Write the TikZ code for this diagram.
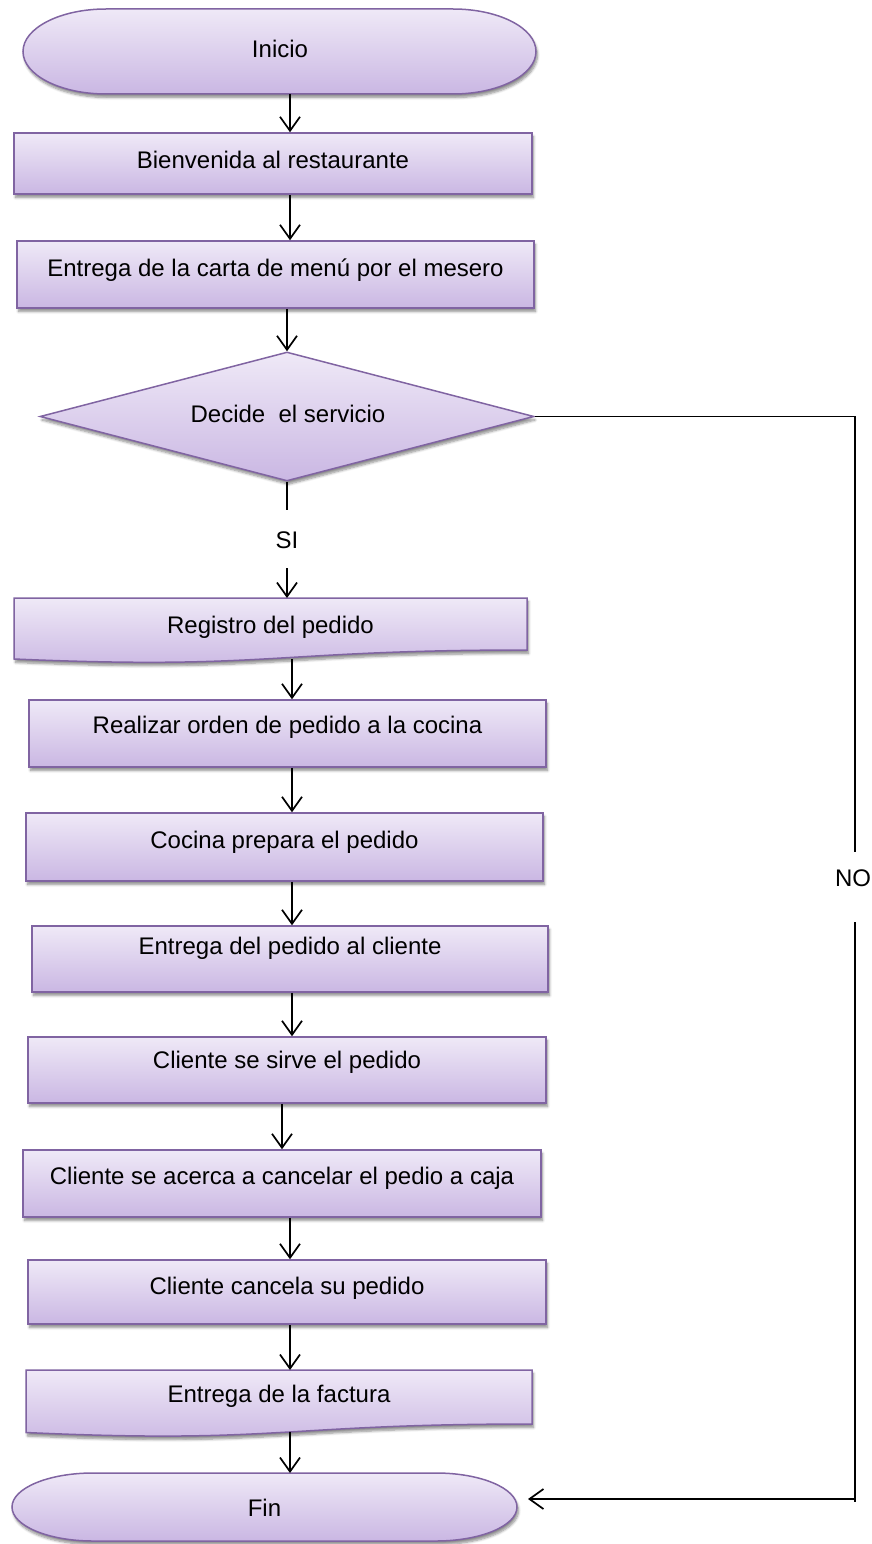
\documentclass[tikz,border=0pt]{standalone}
\usepackage{fontspec}
\setmainfont{Liberation Sans}
\usetikzlibrary{arrows.meta,shadows.blur,shapes.geometric,calc}
\definecolor{ftop}{RGB}{239,233,247}
\definecolor{fbot}{RGB}{202,183,227}
\definecolor{fborder}{RGB}{128,100,162}
\tikzset{
  shp/.style={draw=fborder, line width=1.5pt, top color=ftop, bottom color=fbot,
    blur shadow={shadow xshift=1.5pt, shadow yshift=-3.5pt, shadow opacity=45, shadow blur steps=6, shadow blur radius=2.5pt}},
  proc/.style={shp, rectangle, inner sep=0pt},
  lbl/.style={font=\fontsize{24}{28}\selectfont, inner sep=0pt, anchor=base},
  conn/.style={line width=1.7pt, black},
  arr/.style={conn, -{Straight Barb[length=14pt,width=20pt]}},
}
\begin{document}
\begin{tikzpicture}[x=1pt,y=1pt]
\useasboundingbox (0,0) rectangle (872,-1544);
\coordinate (ax) at (290,0);
\coordinate (ay) at (292,0);
\coordinate (az) at (282,0);

% Inicio
\path[shp] (106,-9) -- (453,-9) arc[start angle=90,end angle=-90,x radius=83,y radius=42.5]
  -- (106,-94) arc[start angle=270,end angle=90,x radius=83,y radius=42.5] -- cycle;
\node[lbl] (inicio) at (280,-57.5) {Inicio};
\coordinate (inicio-s) at (280,-94);

% process boxes
\node[proc, minimum width=518pt, minimum height=61pt] (bien) at (273,-163.5) {};
\node[lbl] (tbien) at (273,-168.5) {Bienvenida al restaurante};

\node[proc, minimum width=517pt, minimum height=67pt] (carta) at (275.5,-274.5) {};
\node[lbl] (tcarta) at (275.5,-276.5) {Entrega de la carta de menú por el mesero};

% decision
\node[shp, diamond, minimum width=494pt, minimum height=129pt, inner sep=0pt, aspect=3.8] (dec) at (287,-416.5) {};
\node[lbl] (tdec) at (288,-422.5) {Decide\ \ el servicio};

\coordinate (siA) at (287,-510);
\node[lbl] (si) at (287,-548.5) {SI};
\coordinate (siB) at (287,-568);

% Registro (document)
\path[shp] (14,-598) -- (527,-598) -- (527,-650) .. controls (270.5,-650) and (270.5,-670) .. (14,-659) -- cycle;
\node[lbl] (reg) at (270.5,-633.5) {Registro del pedido};
\coordinate (reg-n) at (287,-598);
\coordinate (reg-s) at (292,-659);

\node[proc, minimum width=517pt, minimum height=67pt] (real) at (287.5,-733.5) {};
\node[lbl] (treal) at (287.5,-733.5) {Realizar orden de pedido a la cocina};

\node[proc, minimum width=517pt, minimum height=68pt] (coc) at (284.5,-847) {};
\node[lbl] (tcoc) at (284.5,-848.5) {Cocina prepara el pedido};

\node[proc, minimum width=516pt, minimum height=66pt] (entp) at (290,-959) {};
\node[lbl] (tentp) at (290,-954.5) {Entrega del pedido al cliente};

\node[proc, minimum width=518pt, minimum height=66pt] (sirve) at (287,-1070) {};
\node[lbl] (tsirve) at (287,-1068.5) {Cliente se sirve el pedido};

\node[proc, minimum width=518pt, minimum height=67pt] (acer) at (282,-1183.5) {};
\node[lbl] (tacer) at (282,-1184.5) {Cliente se acerca a cancelar el pedio a caja};

\node[proc, minimum width=518pt, minimum height=64pt] (canc) at (287,-1292) {};
\node[lbl] (tcanc) at (287,-1294.5) {Cliente cancela su pedido};

% Factura (document)
\path[shp] (26,-1370) -- (532,-1370) -- (532,-1424) .. controls (279,-1424) and (279,-1444) .. (26,-1432.5) -- cycle;
\node[lbl] (fact) at (279,-1402.5) {Entrega de la factura};
\coordinate (fact-n) at (290,-1370);
\coordinate (fact-s) at (290,-1432);

% Fin
\path[shp] (93,-1473) -- (436,-1473) arc[start angle=90,end angle=-90,x radius=81,y radius=34]
  -- (93,-1541) arc[start angle=270,end angle=90,x radius=81,y radius=34] -- cycle;
\node[lbl] (fin) at (264.5,-1516.5) {Fin};
\coordinate (fin-n) at (290,-1473);
\coordinate (finE) at (528,-1499);

% connectors
\draw[arr] (inicio-s -| ax) -- (bien.north -| ax);
\draw[arr] (bien.south -| ax) -- (carta.north -| ax);
\draw[arr] (carta.south -| dec.north) -- (dec.north);
\draw[conn] (dec.south) -- (siA);
\draw[arr] (siB) -- (reg-n);
\draw[arr] (reg-s) -- (real.north -| ay);
\draw[arr] (real.south -| ay) -- (coc.north -| ay);
\draw[arr] (coc.south -| ay) -- (entp.north -| ay);
\draw[arr] (entp.south -| ay) -- (sirve.north -| ay);
\draw[arr] (sirve.south -| az) -- (acer.north -| az);
\draw[arr] (acer.south -| ax) -- (canc.north -| ax);
\draw[arr] (canc.south -| ax) -- (fact-n);
\draw[arr] (fact-s) -- (fin-n);

% NO branch
\coordinate (noA) at (855,-852);
\node[lbl] (no) at (853,-886.5) {NO};
\coordinate (noB) at (855,-922);
\coordinate (noC) at (855,-1502);
\draw[conn] (dec.east) -- (dec.east -| noA) -- (noA);
\draw[conn] (noB) -- (noC);
\draw[arr] (noC |- finE) -- (finE);
\end{tikzpicture}
\end{document}
